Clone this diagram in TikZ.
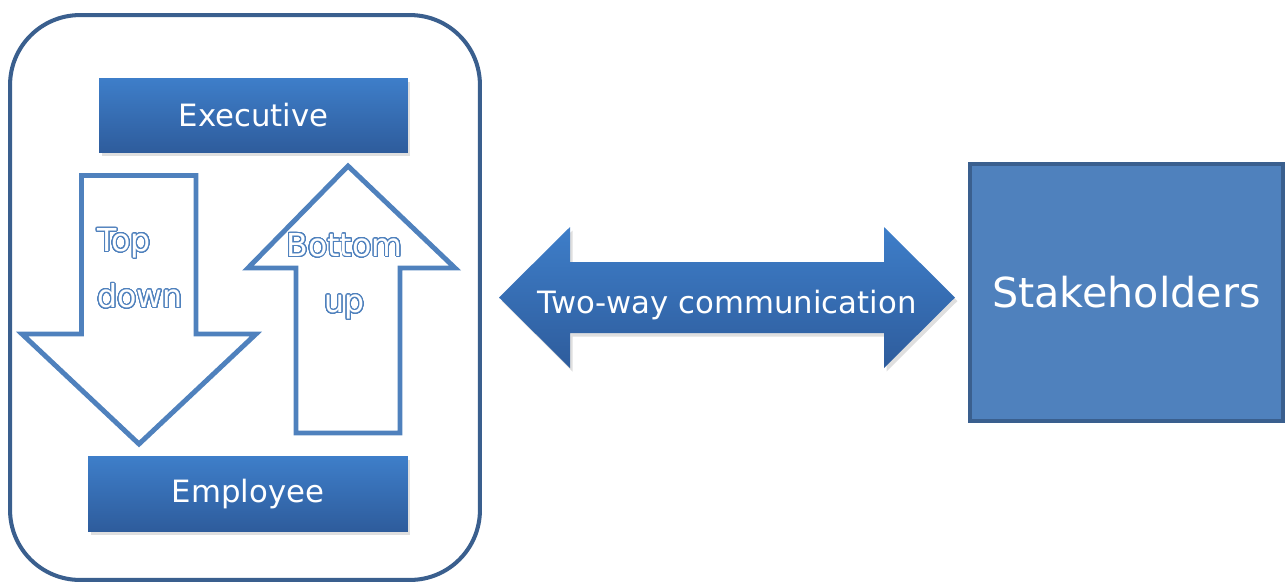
\documentclass[tikz,border=0pt]{standalone}
\usepackage{fontspec}
\setmainfont{DejaVu Sans}
\usepackage{xcolor}
\usepackage{contour}
\usepackage{tikz}
\usetikzlibrary{shadows}

\definecolor{frameblue}{RGB}{58,95,142}
\definecolor{lineblue}{RGB}{79,129,189}
\definecolor{shadetop}{RGB}{62,126,201}
\definecolor{shadebot}{RGB}{46,92,156}

% white letters with a thin blue rim
\contourlength{0.5pt}
\contournumber{40}
\newcommand{\outlined}[1]{\contour{lineblue}{#1}}

\begin{document}
\begin{tikzpicture}[x=0.02cm,y=-0.02cm,
		level/.style={minimum width=#1, minimum height=1.49cm, inner sep=0pt,
			top color=shadetop, bottom color=shadebot, text=white,
			font=\fontsize{17.5}{21}\selectfont,
			drop shadow={opacity=0.25, shadow xshift=0.05cm, shadow yshift=-0.07cm}},
		hollow/.style={draw=lineblue, line width=2.8pt, line join=miter, fill=white},
		arrowtext/.style={inner sep=0pt, font=\fontsize{18}{32}\selectfont, text=white}]
					\useasboundingbox (0,0) rectangle (1286,583);
					% Frame round the organisation
					\node[draw=frameblue, line width=2.3pt, rounded corners=1.4cm,
						minimum width=9.4cm, minimum height=11.3cm] (org) at (245,297.5) {};
					% Levels
					\node[level=6.18cm] (exec) at (253.5,115.5) {Executive};
					\node[level=6.4cm] (empl) at (248,494) {Employee};
					% Hollow arrows between the levels
					\draw[hollow] (81.5,175.5) -- (196,175.5) -- (196,334) -- (256,334)
						-- (139,444) -- (22,334) -- (81.5,334) -- cycle;
					\draw[hollow] (296,433) -- (400,433) -- (400,268) -- (455,268)
						-- (348,166) -- (248,268) -- (296,268) -- cycle;
					\node[arrowtext, anchor=north west, align=left] (topdown) at (97,228)
						{\outlined{Top}\\\outlined{down}};
					\node[arrowtext, anchor=north, align=center] (bottomup) at (344.5,233)
						{\outlined{Bottom}\\\outlined{up}};
					% Stakeholders
					\node[draw=frameblue, line width=2.3pt, fill=lineblue,
						minimum width=6.26cm, minimum height=5.14cm, text=white,
						font=\fontsize{23.5}{28}\selectfont] (stake) at (1126.5,292.5) {Stakeholders};
					% Two-way arrow
					\path[top color=shadetop, bottom color=shadebot,
						drop shadow={opacity=0.25, shadow xshift=0.05cm, shadow yshift=-0.07cm}]
						(499,297.5) -- (570,227) -- (570,262) -- (884,262) -- (884,227)
						-- (955,297.5) -- (884,368) -- (884,333) -- (570,333) -- (570,368) -- cycle;
					\node[text=white, font=\fontsize{17.5}{21}\selectfont, anchor=base] (twoway)
						at (727,313) {Two-way communication};
				\end{tikzpicture}
\end{document}
